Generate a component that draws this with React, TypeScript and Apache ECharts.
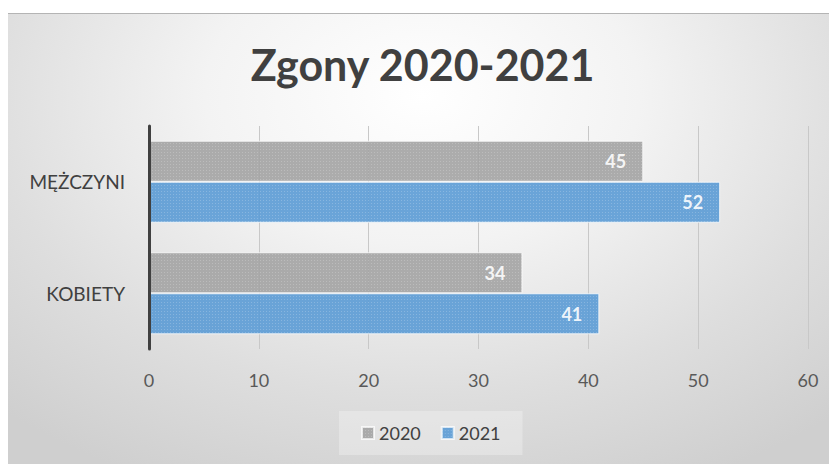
import React, { useEffect, useRef } from "react";
import * as echarts from "echarts";

const categories = ["MĘŻCZYNI", "KOBIETY"];
const seriesNames = ["2020", "2021"];
const values2020 = [45, 34];
const values2021 = [52, 41];
const xTicks = { min: 0, max: 60, interval: 10 };

const FONT = "Lato, 'Open Sans', sans-serif";

export default function App() {
  const ref = useRef<HTMLDivElement>(null);
  useEffect(() => {
    if (!ref.current) return;
    const chart = echarts.init(ref.current, null, { renderer: "svg" });
    const decal = (c: string) => ({
      symbol: "rect",
      symbolSize: 1,
      color: c,
      dashArrayX: [1, 2],
      dashArrayY: [1, 2],
      rotation: 0,
    });
    const label = {
      show: true,
      position: "insideRight",
      distance: 17,
      color: "#ffffff",
      fontWeight: "bold",
      fontSize: 18,
      fontFamily: FONT,
    };
    chart.setOption({
      animation: false,
      backgroundColor: "transparent",
      title: {
        text: "Zgony 2020-2021",
        left: "center",
        top: 24,
        textStyle: { fontFamily: FONT, fontWeight: "bold", fontSize: 43, color: "#404040" },
      },
      legend: {
        data: seriesNames,
        left: 331,
        top: 397,
        padding: [13, 22, 13, 22],
        backgroundColor: "rgba(255,255,255,0.28)",
        itemWidth: 12,
        itemHeight: 12,
        itemGap: 20,
        icon: "rect",
        textStyle: { fontFamily: FONT, fontSize: 18, color: "#404040" },
      },
      grid: { left: 141, right: 29, top: 112, bottom: 115, containLabel: false },
      xAxis: {
        type: "value",
        min: xTicks.min,
        max: xTicks.max,
        interval: xTicks.interval,
        axisLine: { show: false },
        axisTick: { show: false },
        axisLabel: { fontFamily: FONT, fontSize: 18, color: "#595959", margin: 22 },
        splitLine: { show: true, lineStyle: { color: "#c8c8c8", width: 1 } },
      },
      yAxis: {
        type: "category",
        data: categories,
        inverse: true,
        z: 5,
        axisLine: { show: true, lineStyle: { color: "#404040", width: 3 } },
        axisTick: { show: false },
        axisLabel: { fontFamily: FONT, fontSize: 19, color: "#404040", margin: 24 },
      },
      series: [
        {
          name: seriesNames[0],
          type: "bar",
          data: values2020,
          barWidth: 41,
          barGap: "0%",
          itemStyle: {
            color: "#a3a3a3",
            opacity: 0.9,
            borderColor: "rgba(255,255,255,0.5)",
            borderWidth: 1,
            decal: decal("rgba(255,255,255,0.22)"),
          },
          label,
        },
        {
          name: seriesNames[1],
          type: "bar",
          data: values2021,
          barWidth: 41,
          barGap: "0%",
          itemStyle: {
            color: "#5b9bd5",
            opacity: 0.9,
            borderColor: "rgba(255,255,255,0.5)",
            borderWidth: 1,
            decal: decal("rgba(255,255,255,0.22)"),
          },
          label,
        },
      ],
    });
    return () => chart.dispose();
  }, []);
  return (
    <div style={{ paddingTop: 5 }}>
      <div
        ref={ref}
        style={{
          width: 829,
          height: 451,
          boxSizing: "border-box",
          borderTop: "1px solid #b4b4b4",
          background:
            "radial-gradient(ellipse 75% 95% at 50% 18%, #ffffff 0%, #f3f3f3 35%, #dedede 70%, #cfcfcf 100%)",
        }}
      />
    </div>
  );
}
